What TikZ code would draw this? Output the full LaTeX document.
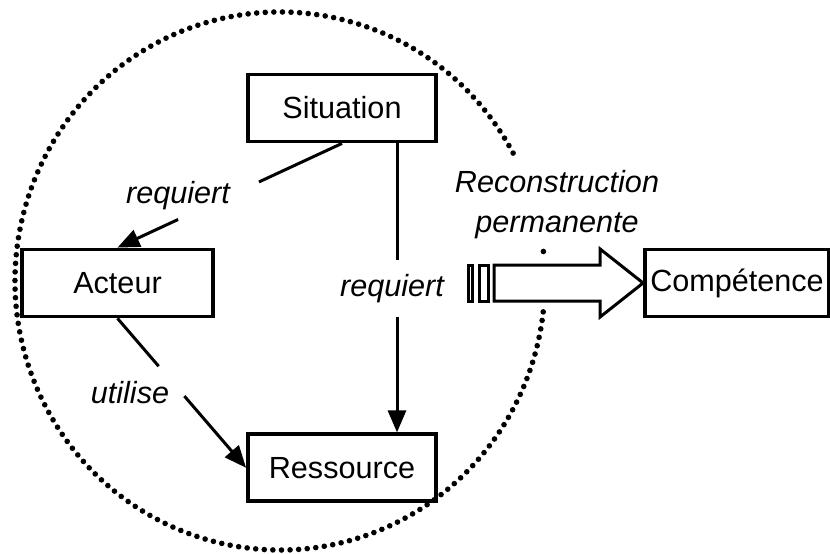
\documentclass[tikz,border=0pt]{standalone}
\usepackage{fontspec}
\setmainfont{Liberation Sans}
\usetikzlibrary{arrows.meta, calc, positioning}

\begin{document}
\begin{tikzpicture}[
    x=0.5pt, y=0.5pt,
    >={Triangle[length=11pt, width=9pt]},
    box/.style ={draw, line width=1.9pt, minimum width=94pt, minimum height=33.5pt,
                 inner sep=0pt, font=\fontsize{15.3}{18}\selectfont},
    lbl/.style ={font=\fontsize{15.3}{20}\selectfont\itshape, align=center,
                 inner sep=0pt},
    flow/.style={line width=1.5pt},
    ring/.style={line width=2.8pt, line cap=round, dash pattern=on 0pt off 4.3pt},
]
\useasboundingbox (0,0) rectangle (830,553);
\clip (0,0) rectangle (830,553);
% dotted boundary round the three notions
\draw[ring] (280,272) ++(28.4:265 and 269)
   arc[start angle=28.4, end angle=355.2, x radius=265, y radius=269];
\fill (280,272) ++(6.3:265 and 269) circle (1.4pt);

\node[box] (sit) at (342,445) {Situation};
\node[box, minimum width=95.5pt] (act) at (117.5,270) {Acteur};
\node[box, below=144.5pt of sit] (res) {Ressource};
\node[box, minimum width=92pt] (comp) at (737,270) {Compétence};

% situation -> acteur
\path (sit.south) -- (act.north) coordinate[pos=0.37] (a1) coordinate[pos=0.73] (a2);
\draw[flow] (sit.south) -- (a1);
\draw[flow, ->] (a2) -- (act.north);
\node[lbl] (l1) at (178,357) {requiert};

% acteur -> ressource
\path (act.south) -- (res.west) coordinate[pos=0.32] (b1) coordinate[pos=0.52] (b2);
\draw[flow] (act.south) -- (b1);
\draw[flow, ->] (b2) -- (res.west);
\node[lbl] (l2) at (130,160) {utilise};

% situation -> ressource
\coordinate (c0) at ([xshift=27.5pt]sit.south);
\coordinate (c1) at ($(c0)+(0,-117)$);
\coordinate (c2) at ($(c0)+(0,-174)$);
\draw[flow] (c0) -- (c1);
\draw[flow, ->] (c2) -- (c0 |- res.north);
\node[lbl] (l3) at (392,264) {requiert};

% striped arrow towards competence
\node[lbl] (l4) at (557,348) {Reconstruction\\permanente};
\draw[flow, line join=miter] (comp.west) -- ++(-43,34) -- ++(0,-16) -- ++(-106,0)
   -- ++(0,-36) -- ++(106,0) -- ++(0,-16) -- cycle;
\draw[flow] ($(comp.west)+(-175,-18)$) rectangle ++(4,36);
\draw[flow] ($(comp.west)+(-164,-18)$) rectangle ++(9,36);
\end{tikzpicture}
\end{document}
